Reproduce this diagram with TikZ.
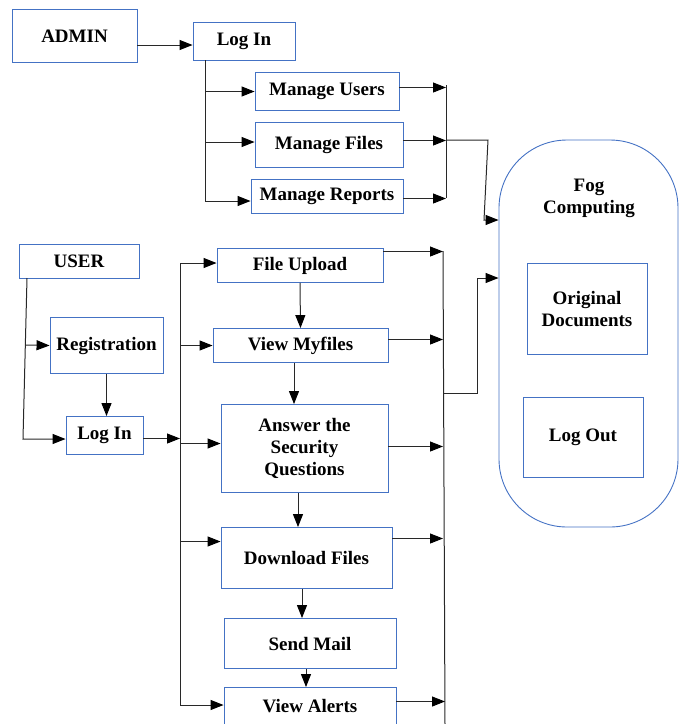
\documentclass[tikz,border=0pt]{standalone}
\usepackage{fontspec}
\setmainfont{Liberation Serif}
\usetikzlibrary{arrows.meta}
\definecolor{boxblue}{RGB}{68,114,196}
\definecolor{wire}{RGB}{40,40,40}
\tikzset{
  stepbox/.style={draw=boxblue, line width=0.9pt, rectangle, inner sep=2pt, align=center,
    font=\fontsize{19}{22}\selectfont\bfseries},
  wireline/.style={draw=wire, line width=1pt},
  arr/.style={wireline, -{Triangle[length=13pt,width=10pt,fill=black,color=black]}},
}
\newcommand{\stepnode}[6]{% name, cx, cy, w, h, text
  \node[stepbox, minimum width=#4pt, minimum height=#5pt] (#1) at (#2,#3) {#6};}
\begin{document}
\begin{tikzpicture}[x=1pt,y=-1pt]
\useasboundingbox (0,0) rectangle (681,724);

% ---------- admin part ----------
\stepnode{admin}{74.5}{36}{125}{53}{ADMIN}
\stepnode{alogin}{244}{41.5}{102}{38}{Log In}
\stepnode{musers}{327}{91.5}{144}{38}{Manage Users}
\stepnode{mfiles}{329}{145}{148}{45}{Manage Files}
\stepnode{mreports}{327}{196.5}{152}{34}{Manage Reports}

% ---------- fog computing ----------
\node[draw=boxblue, line width=0.9pt, rounded corners=68pt, minimum width=179pt,
      minimum height=387pt] (fog) at (588.5,333.5) {};
\node[font=\fontsize{19}{22}\selectfont\bfseries, align=center] (fogtitle) at (589,198) {Fog\\Computing};
\stepnode{orig}{587}{309}{120}{91}{Original\\Documents}
\stepnode{logout}{583}{437.5}{120}{80}{Log Out}

% ---------- user part ----------
\stepnode{user}{79}{261.5}{120}{34}{USER}
\stepnode{reg}{106.5}{345.5}{113}{56}{Registration}
\stepnode{ulogin}{104.5}{435.5}{77}{38}{Log In}
\stepnode{upload}{300}{265.5}{166}{34}{File Upload}
\stepnode{myfiles}{300.5}{345.5}{175}{34}{View Myfiles}
\stepnode{answer}{304.5}{448.5}{167}{88}{Answer the\\Security\\Questions}
\stepnode{download}{306.5}{558}{171}{61}{Download Files}
\stepnode{sendmail}{310}{643.5}{172}{50}{Send Mail}
\stepnode{alerts}{310}{706.5}{172}{38}{View Alerts}

% ---------- admin connectors ----------
\draw[arr] ([yshift=-9pt]admin.east) -- ([yshift=-9pt]admin.east -| alogin.west);
\coordinate (atop) at (205,60);
\coordinate (abot) at (205,201);
\draw[wireline] (atop) -- (abot);
\draw[arr] (atop |- musers.west) -- (musers.west);
\draw[arr] ([yshift=3pt]atop |- mfiles.west) -- ([yshift=3pt]mfiles.west);
\draw[arr] (abot) -- (abot -| mreports.west);

\coordinate (rtop) at (446,85);
\coordinate (rbot) at (446,198);
\draw[wireline] (rtop) -- (rbot);
\draw[arr] ([yshift=4pt]musers.east) -- ([yshift=4pt]musers.east -| rtop);
\draw[arr] ([yshift=4.5pt]mfiles.east) -- ([yshift=4.5pt]mfiles.east -| rtop);
\draw[arr] ([yshift=-2pt]mreports.east) -- ([yshift=-2pt]mreports.east -| rtop);

\coordinate (fa) at (446,140);
\coordinate (fb) at (488,140);
\coordinate (fc) at (484,220);
\draw[arr] (fa) -- (fb) -- (fc) -- (fc -| fog.west);

% ---------- user connectors ----------
\coordinate (ut) at (27,278);
\coordinate (ub) at (23,439);
\draw[arr] (ut) -- (ub) -- (ub -| ulogin.west);
\coordinate (ur) at (25.5,345);
\draw[arr] (ur) -- (reg.west);
\draw[arr] (reg.south) -- (reg.south |- ulogin.north);

\coordinate (lt) at (180,263);
\coordinate (lb) at (180,705);
\draw[wireline] (lt) -- (lb);
\draw[arr] ([yshift=-3pt]ulogin.east) -- ([yshift=-3pt]ulogin.east -| lt);
\draw[arr] (lt) -- (lt -| upload.west);
\draw[arr] (lt |- myfiles.west) -- (myfiles.west);
\draw[arr] ([yshift=5pt]lt |- answer.west) -- ([yshift=5pt]answer.west);
\draw[arr] ([yshift=16.5pt]lt |- download.west) -- ([yshift=16.5pt]download.west);
\draw[arr] (lb) -- (lb -| alerts.west);

\draw[arr] (upload.south) -- (myfiles.north);
\draw[arr] ([xshift=-6.5pt]myfiles.south) -- ([xshift=-6.5pt]myfiles.south |- answer.north);
\draw[arr] ([xshift=-6.5pt]answer.south) -- ([xshift=-6.5pt]answer.south |- download.north);
\draw[arr] ([xshift=-4.5pt]download.south) -- ([xshift=-4.5pt]download.south |- sendmail.north);
\draw[arr] ([xshift=-4pt]sendmail.south) -- ([xshift=-4pt]sendmail.south |- alerts.north);

\coordinate (qt) at (443,251);
\coordinate (qb) at (445,724);
\draw[wireline] (qt) -- (qb);
\draw[arr] ([yshift=14pt]upload.east) -- ([yshift=14pt]upload.east -| qt);
\draw[arr] ([yshift=6pt]myfiles.east) -- ([yshift=6pt]myfiles.east -| qt);
\draw[arr] ([yshift=2pt]answer.east) -- ([yshift=2pt]answer.east -| qt);
\draw[arr] ([yshift=19.5pt]download.east) -- ([yshift=19.5pt]download.east -| qt);
\draw[arr] ([yshift=5pt]alerts.east) -- ([yshift=5pt]alerts.east -| qb);

\coordinate (ga) at (443,393);
\coordinate (gb) at (477,393);
\coordinate (gc) at (477,278);
\draw[arr] (ga) -- (gb) -- (gc) -- (gc -| fog.west);
\end{tikzpicture}
\end{document}
